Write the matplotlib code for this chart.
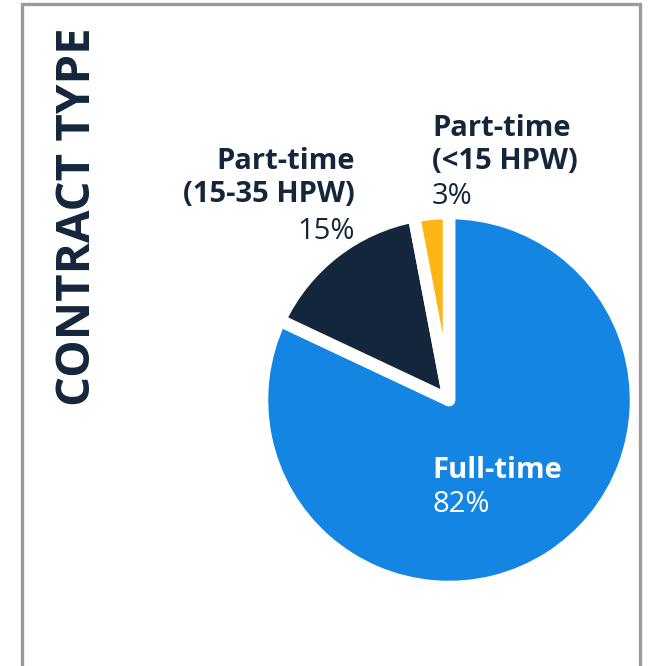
import matplotlib
matplotlib.use("Agg")
import matplotlib.pyplot as plt
from matplotlib.patches import Rectangle

# data
categories = ['Full-time', 'Part-time\n(15-35 HPW)', 'Part-time\n(<15 HPW)']
shares = [82, 15, 3]
colors = ['#1485E3', '#13263B', '#FDB515']
title = 'CONTRACT TYPE'

navy = '#13263B'
plt.rcParams['font.family'] = ['Open Sans', 'DejaVu Sans']

W, H = 656, 666
fig = plt.figure(figsize=(W / 100, H / 100), dpi=100)

def fx(px):
    return px / W

def fy(py):
    return 1 - py / H

# grey frame, open at the bottom
fig.patches.append(Rectangle((fx(22), fy(700)), fx(640) - fx(22), fy(4) - fy(700),
                             transform=fig.transFigure, fill=False,
                             edgecolor='#9B9B9B', linewidth=2.4, zorder=0))

# pie
cx, cy, r = 449, 400, 187
ax = fig.add_axes([fx(cx - r), fy(cy + r), 2 * r / W, 2 * r / H])
ax.pie(shares, colors=colors, startangle=90, counterclock=False,
       wedgeprops=dict(edgecolor='white', linewidth=9, joinstyle='round'))
ax.set_xlim(-1, 1)
ax.set_ylim(-1, 1)
ax.set_aspect('auto')
ax.axis('off')

# title
fig.text(fx(78), fy(217), title, rotation=90, ha='center', va='center',
         fontsize=34, fontweight='bold', color=navy)

fs = 21
# labels
fig.text(fx(432), fy(470), categories[0], ha='left', va='center',
         fontsize=fs, fontweight='bold', color='white')
fig.text(fx(432), fy(505), f'{shares[0]}%', ha='left', va='center',
         fontsize=fs, color='white')

fig.text(fx(355), fy(178), categories[1], ha='right', va='center',
         fontsize=fs, fontweight='bold', color=navy, linespacing=1.2)
fig.text(fx(355), fy(232), f'{shares[1]}%', ha='right', va='center',
         fontsize=fs, color=navy)

fig.text(fx(432), fy(145), categories[2], ha='left', va='center',
         fontsize=fs, fontweight='bold', color=navy, linespacing=1.2)
fig.text(fx(432), fy(197), f'{shares[2]}%', ha='left', va='center',
         fontsize=fs, color=navy)

fig.savefig('out.png', dpi=100, facecolor='white')
